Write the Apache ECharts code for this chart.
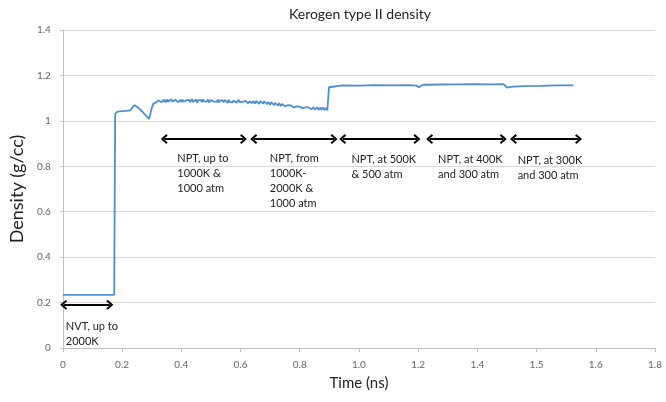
<!DOCTYPE html>
<html>
<head>
<meta charset="utf-8">
<script src="https://cdn.jsdelivr.net/npm/echarts@6/dist/echarts.min.js"></script>
<style>html,body{margin:0;padding:0;background:#fff}#c{width:666px;height:402px}</style>
</head>
<body>
<div id="c"></div>
<script>
// ---- data ----
const chartTitle = 'Kerogen type II density';
const xAxisName = 'Time (ns)';
const yAxisName = 'Density (g/cc)';
const xTickLabels = ['0','0.2','0.4','0.6','0.8','1.0','1.2','1.4','1.5','1.6','1.8'];
const yTicks = [0, 0.2, 0.4, 0.6, 0.8, 1, 1.2, 1.4];

// heating / first compression stage
const timeA = [0, 0.156, 0.159, 0.165, 0.172, 0.190, 0.205, 0.212, 0.218, 0.225, 0.235, 0.245, 0.255, 0.262, 0.266, 0.270, 0.275];
const densA = [0.234, 0.234, 1.030, 1.040, 1.042, 1.044, 1.046, 1.060, 1.069, 1.062, 1.050, 1.035, 1.020, 1.008, 1.000, 1.055, 1.076];

// noisy NPT stages
const timeB = [
  0.282, 0.285, 0.288, 0.291, 0.294, 0.297, 0.300, 0.303, 0.306, 0.309,
  0.312, 0.315, 0.318, 0.321, 0.324, 0.327, 0.330, 0.333, 0.336, 0.339,
  0.342, 0.345, 0.348, 0.351, 0.354, 0.357, 0.360, 0.363, 0.366, 0.369,
  0.372, 0.375, 0.378, 0.381, 0.384, 0.387, 0.390, 0.393, 0.396, 0.399,
  0.402, 0.405, 0.408, 0.411, 0.414, 0.417, 0.420, 0.423, 0.426, 0.429,
  0.432, 0.435, 0.438, 0.441, 0.444, 0.447, 0.450, 0.453, 0.456, 0.459,
  0.462, 0.465, 0.468, 0.471, 0.474, 0.477, 0.480, 0.483, 0.486, 0.489,
  0.492, 0.495, 0.498, 0.501, 0.504, 0.507, 0.510, 0.513, 0.516, 0.519,
  0.522, 0.525, 0.528, 0.531, 0.534, 0.537, 0.540, 0.543, 0.546, 0.549,
  0.552, 0.555, 0.558, 0.561, 0.564, 0.567, 0.570, 0.573, 0.576, 0.579,
  0.582, 0.585, 0.588, 0.591, 0.594, 0.597, 0.600, 0.603, 0.606, 0.609,
  0.612, 0.615, 0.618, 0.621, 0.624, 0.627, 0.630, 0.633, 0.636, 0.639,
  0.642, 0.645, 0.648, 0.651, 0.654, 0.657, 0.660, 0.663, 0.666, 0.669,
  0.672, 0.675, 0.678, 0.681, 0.684, 0.687, 0.690, 0.693, 0.696, 0.699,
  0.702, 0.705, 0.708, 0.711, 0.714, 0.717, 0.720, 0.723, 0.726, 0.729,
  0.732, 0.735, 0.738, 0.741, 0.744, 0.747, 0.750, 0.753, 0.756, 0.759,
  0.762, 0.765, 0.768, 0.771, 0.774, 0.777, 0.780, 0.783, 0.786, 0.789,
  0.792, 0.795, 0.798, 0.801, 0.804, 0.807
];
const densB = [
  1.080, 1.086, 1.082, 1.090, 1.083, 1.091, 1.082, 1.089, 1.093, 1.083,
  1.092, 1.082, 1.094, 1.085, 1.080, 1.091, 1.095, 1.084, 1.090, 1.081,
  1.093, 1.086, 1.096, 1.082, 1.089, 1.092, 1.083, 1.094, 1.085, 1.091,
  1.081, 1.090, 1.095, 1.084, 1.092, 1.082, 1.088, 1.096, 1.083, 1.091,
  1.085, 1.094, 1.080, 1.090, 1.093, 1.084, 1.091, 1.082, 1.095, 1.086,
  1.083, 1.092, 1.085, 1.094, 1.081, 1.089, 1.091, 1.083, 1.093, 1.085,
  1.082, 1.091, 1.084, 1.094, 1.080, 1.089, 1.092, 1.083, 1.090, 1.081,
  1.092, 1.084, 1.089, 1.079, 1.093, 1.083, 1.088, 1.091, 1.081, 1.090,
  1.082, 1.091, 1.080, 1.088, 1.093, 1.083, 1.078, 1.089, 1.084, 1.092,
  1.079, 1.088, 1.082, 1.090, 1.077, 1.086, 1.081, 1.089, 1.078, 1.087,
  1.082, 1.076, 1.088, 1.080, 1.085, 1.075, 1.087, 1.079, 1.084, 1.076,
  1.086, 1.078, 1.083, 1.074, 1.084, 1.077, 1.071, 1.082, 1.075, 1.080,
  1.069, 1.079, 1.071, 1.076, 1.067, 1.078, 1.070, 1.065, 1.075, 1.068,
  1.073, 1.064, 1.071, 1.062, 1.069, 1.074, 1.061, 1.068, 1.063, 1.071,
  1.059, 1.067, 1.057, 1.064, 1.068, 1.056, 1.063, 1.058, 1.066, 1.055,
  1.062, 1.053, 1.060, 1.064, 1.052, 1.059, 1.054, 1.063, 1.051, 1.058,
  1.061, 1.050, 1.057, 1.052, 1.060, 1.048, 1.056, 1.059, 1.049, 1.055,
  1.058, 1.047, 1.054, 1.057, 1.046, 1.051
];

// 500K / 400K / 300K stages
const timeC = [0.809, 0.813, 0.850, 0.900, 0.950, 1.000, 1.050, 1.075, 1.083, 1.090, 1.100, 1.150, 1.200, 1.250, 1.300, 1.340,
               1.345, 1.350, 1.360, 1.400, 1.450, 1.500, 1.552];
const densC = [1.148, 1.154, 1.156, 1.155, 1.157, 1.156, 1.157, 1.155, 1.148, 1.156, 1.159, 1.160, 1.161, 1.162, 1.161, 1.162,
               1.160, 1.146, 1.150, 1.153, 1.154, 1.156, 1.156];

// phase annotations
const phaseStart = [0.0024, 0.3080, 0.5802, 0.8507, 1.1148, 1.3698];
const phaseEnd   = [0.1428, 0.5491, 0.8244, 1.0763, 1.3386, 1.5676];
const phaseArrowY = [0.19, 0.92, 0.92, 0.92, 0.92, 0.92];
const phaseLabels = [
  'NVT, up to\n2000K',
  'NPT, up to\n1000K &\n1000 atm',
  'NPT, from\n1000K-\n2000K &\n1000 atm',
  'NPT, at 500K\n& 500 atm',
  'NPT, at 400K\nand 300 atm',
  'NPT, at 300K\nand 300 atm'
];
const labelTime = [0.0091, 0.3479, 0.6292, 0.8773, 1.1405, 1.3825];
const labelDensity = [0.1287, 0.8669, 0.8669, 0.8625, 0.8625, 0.858];

// ---- chart ----
const FONT = 'Lato';
const chart = echarts.init(document.getElementById('c'), null, {renderer: 'canvas'});
const arrowHead = 'path://M5,0 L10,6.5 L8.4,8 L5,3.2 L1.6,8 L0,6.5 Z';
const timeNs = timeA.concat(timeB, timeC);
const density = densA.concat(densB, densC);

const option = {
  animation: false,
  backgroundColor: '#ffffff',
  title: {
    text: chartTitle, left: 355, top: 2, textAlign: 'center',
    textStyle: {fontFamily: FONT, fontSize: 14, fontWeight: 'normal', color: '#222'}
  },
  grid: {left: 60, right: 11, top: 30, bottom: 54, containLabel: false},
  xAxis: {
    type: 'value', min: 0, max: 1.8, interval: 0.18,
    name: xAxisName, nameLocation: 'middle', nameGap: 28,
    nameTextStyle: {fontFamily: FONT, fontSize: 15, color: '#222'},
    axisLine: {show: true, lineStyle: {color: '#bfbfbf'}},
    axisTick: {show: true, length: 4, lineStyle: {color: '#bfbfbf'}},
    splitLine: {show: false},
    axisLabel: {
      fontFamily: FONT, fontSize: 10, color: '#666', margin: 12,
      formatter: v => xTickLabels[Math.round(v / 0.18)]
    }
  },
  yAxis: {
    type: 'value', min: yTicks[0], max: yTicks[yTicks.length - 1], interval: 0.2,
    name: yAxisName, nameLocation: 'middle', nameGap: 36, nameRotate: 90,
    nameTextStyle: {fontFamily: FONT, fontSize: 18, color: '#222'},
    axisLine: {show: true, lineStyle: {color: '#bfbfbf'}},
    axisTick: {show: true, length: 3, lineStyle: {color: '#bfbfbf'}},
    splitLine: {show: true, lineStyle: {color: '#d9d9d9', width: 1}},
    axisLabel: {fontFamily: FONT, fontSize: 10, color: '#666', margin: 12,
      formatter: v => String(Math.round(v * 10) / 10)}
  },
  series: [{
    type: 'line',
    data: timeNs.map((t, i) => [t, density[i]]),
    showSymbol: false, symbol: 'none', clip: false,
    lineStyle: {color: '#4f8fd0', width: 1.8},
    markLine: {
      silent: true, animation: false,
      symbol: [arrowHead, arrowHead], symbolSize: [10, 7],
      label: {show: false},
      lineStyle: {color: '#000', width: 2, type: 'solid'},
      data: phaseStart.map((s, i) => [
        {coord: [s, phaseArrowY[i]]},
        {coord: [phaseEnd[i], phaseArrowY[i]]}
      ])
    },
    markPoint: {
      silent: true, animation: false,
      symbol: 'circle', symbolSize: 0,
      label: {
        show: true, position: [0, 0], align: 'left', verticalAlign: 'top',
        fontFamily: FONT, fontSize: 11, lineHeight: 15, color: '#222',
        formatter: p => p.name
      },
      data: phaseLabels.map((l, i) => ({name: l, coord: [labelTime[i], labelDensity[i]]}))
    }
  }]
};
chart.setOption(option);
</script>
</body>
</html>
